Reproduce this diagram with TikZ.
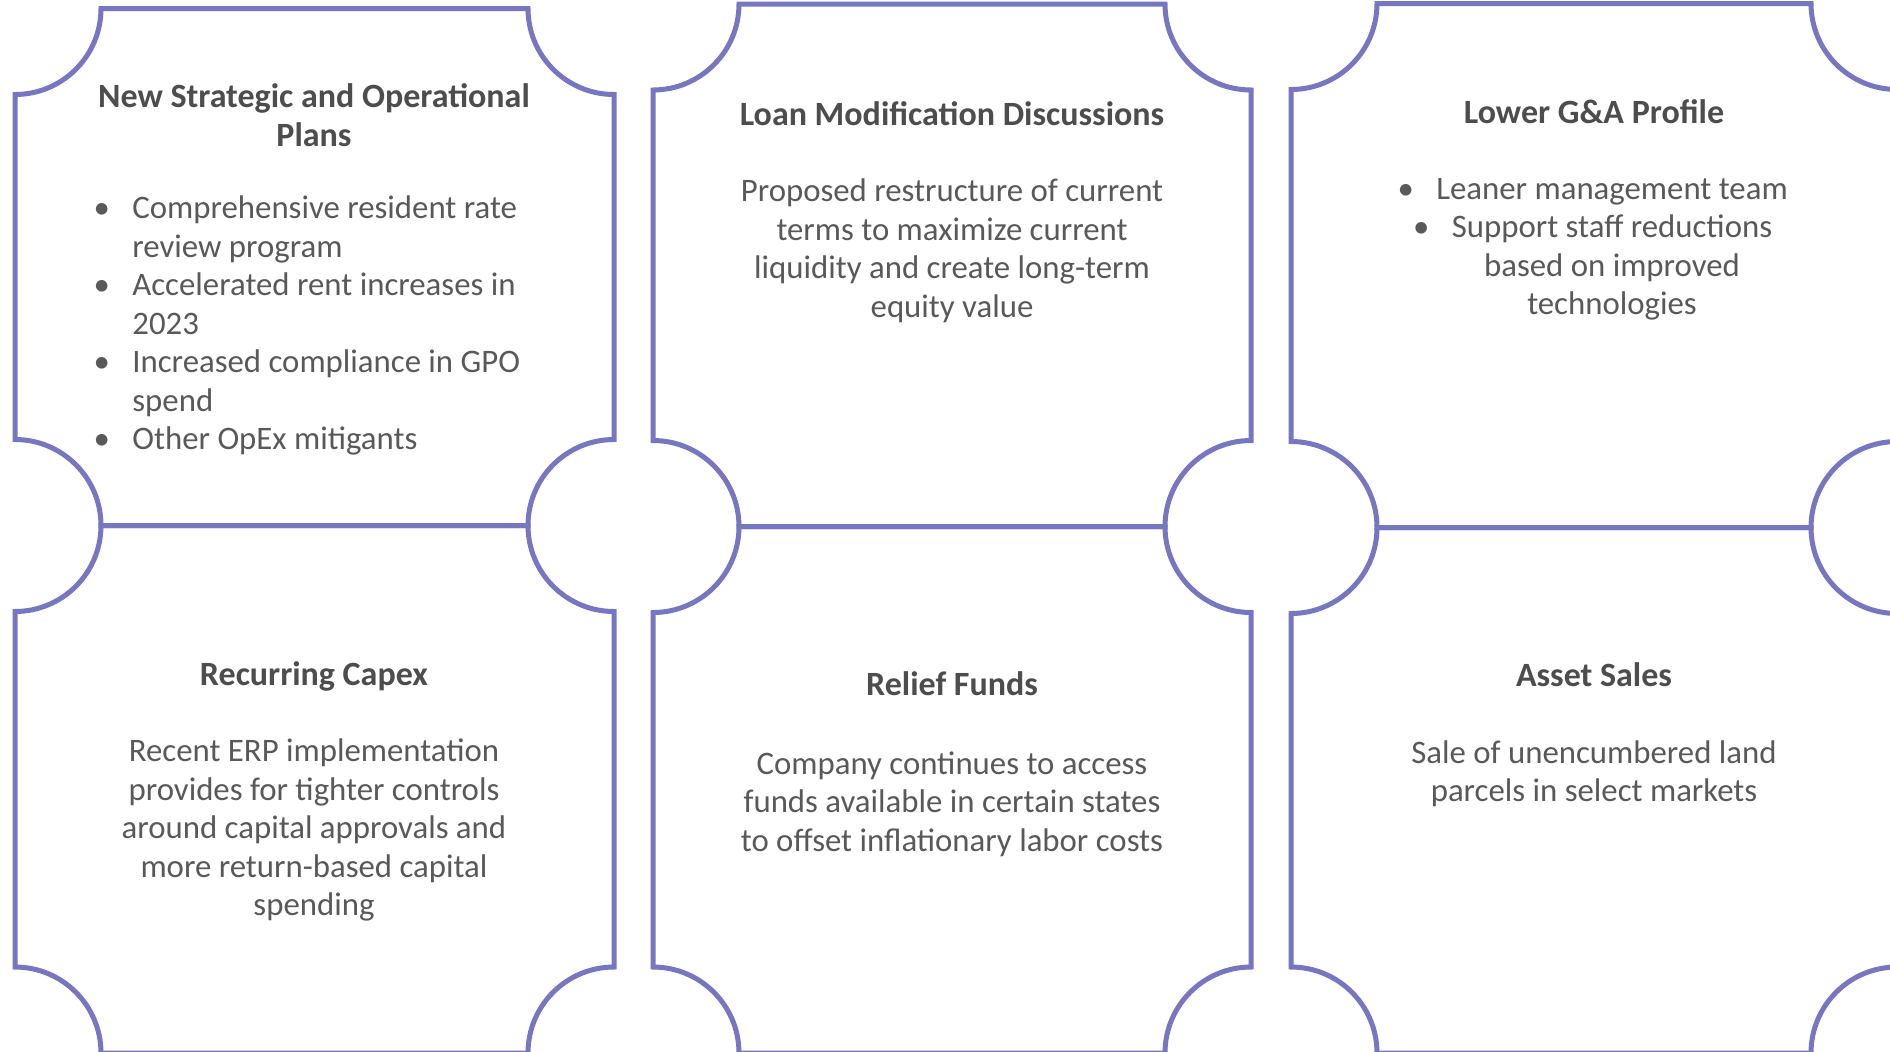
\documentclass[tikz,border=0pt]{standalone}
\usepackage{fontspec}
\setmainfont{Carlito}
\usepackage{tikz}

\definecolor{puzzleline}{RGB}{119,118,192}
\definecolor{headgray}{RGB}{77,77,77}
\definecolor{textgray}{RGB}{89,89,89}

% one puzzle panel: left, top, right, bottom (y grows downwards)
\newcommand{\puzzlepiece}[4]{%
  \draw[piece] ({#1+86},#2) -- ({#3-86},#2) arc[start angle=180, end angle=270, radius=43pt]
    -- (#3,{#4-86}) arc[start angle=90, end angle=180, radius=43pt]
    -- ({#1+86},#4) arc[start angle=0, end angle=90, radius=43pt]
    -- (#1,{#2+86}) arc[start angle=270, end angle=360, radius=43pt] -- cycle;}
\newcommand{\blt}{\llap{\textbullet\hspace{11.2pt}}}

% base anchor of a multi-line node sits on its last line
\tikzset{
  piece/.style={draw=puzzleline, line width=2.5pt},
  headline/.style={font=\fontsize{17}{19.5}\selectfont\bfseries, text=headgray, align=center, inner sep=0pt, anchor=base},
  bodytext/.style={font=\fontsize{16.4}{19.25}\selectfont, text=textgray, align=center, inner sep=0pt, anchor=base}
}

\begin{document}
\begin{tikzpicture}[x=0.5pt, y=-0.5pt]

\useasboundingbox[fill=white] (0,0) rectangle (1890,1051);
\clip (0,0) rectangle (1890,1051);

%% top row
\puzzlepiece{15}{8.5}{614}{525.5}
\puzzlepiece{653}{4}{1251}{526.5}
\puzzlepiece{1291}{3.5}{1897}{527.5}
%% bottom row
\puzzlepiece{15}{525.5}{614}{1053}
\puzzlepiece{653}{526.5}{1251}{1053}
\puzzlepiece{1291}{527.5}{1897}{1053}

%% plans
\node[headline] (plans) at (314,146) {New Strategic and Operational\\Plans};
\node[bodytext, align=left, anchor=base west] (planlist) at (132,449.6)
      {\blt Comprehensive resident rate\\review program\\\blt Accelerated rent increases in\\2023\\
       \blt Increased compliance in GPO\\spend\\\blt Other OpEx mitigants};

%% loan
\node[headline] (loan) at (952,125) {Loan Modification Discussions};
\node[bodytext] (loantext) at (952,317)
      {Proposed restructure of current\\terms to maximize current\\liquidity and create long-term\\equity value};

%% g&a
\node[headline] (ga) at (1594,123) {Lower G\&A Profile};
\node[bodytext] (galist) at (1612,314.5)
      {\blt Leaner management team\\\blt Support staff reductions\\based on improved\\technologies};

%% capex
\node[headline] (capex) at (314,685) {Recurring Capex};
\node[bodytext] (capextext) at (314,915.5)
      {Recent ERP implementation\\provides for tighter controls\\around capital approvals and\\more return-based capital\\spending};

%% relief
\node[headline] (relief) at (952,695.5) {Relief Funds};
\node[bodytext] (relieftext) at (952,851)
      {Company continues to access\\funds available in certain states\\to offset inflationary labor costs};

%% sales
\node[headline] (sales) at (1594,686.7) {Asset Sales};
\node[bodytext] (salestext) at (1594,801.5)
      {Sale of unencumbered land\\parcels in select markets};

\end{tikzpicture}
\end{document}
